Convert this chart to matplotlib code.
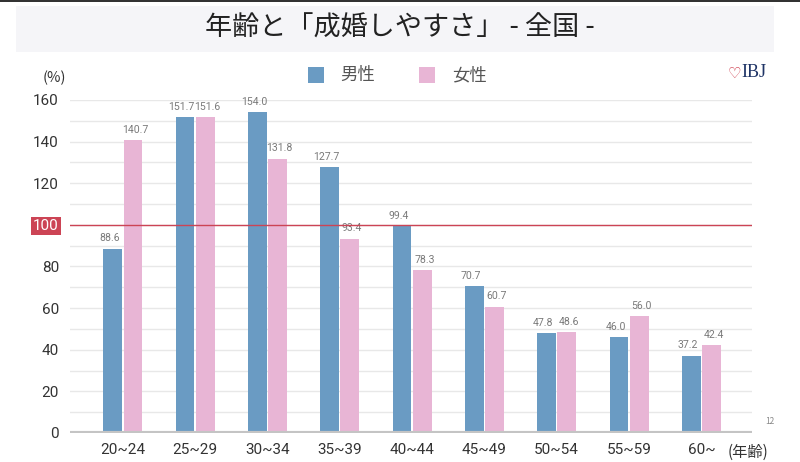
import numpy as np
import matplotlib.pyplot as plt
from matplotlib.patches import Rectangle

plt.rcParams['font.family'] = ['Noto Sans CJK JP', 'DejaVu Sans']

ages = ['20~24', '25~29', '30~34', '35~39', '40~44', '45~49', '50~54', '55~59', '60~']
male = [88.6, 151.7, 154.0, 127.7, 99.4, 70.7, 47.8, 46.0, 37.2]
female = [140.7, 151.6, 131.8, 93.4, 78.3, 60.7, 48.6, 56.0, 42.4]
yticks = [0, 20, 40, 60, 80, 100, 120, 140, 160]

c_male = '#6a9bc3'
c_female = '#e8b5d5'
c_red = '#cc4455'

fig = plt.figure(figsize=(8, 4.62), dpi=100)
ax = fig.add_axes([0.0875, 0.0628, 0.8525, 0.7208])

x = np.arange(len(ages))
w = 0.26
ax.bar(x - w / 2 - 0.01, male, w, color=c_male, zorder=3)
ax.bar(x + w / 2 + 0.01, female, w, color=c_female, zorder=3)

num_font = ['Roboto', 'DejaVu Sans']
for xi, m, f in zip(x, male, female):
    ax.text(xi - w / 2 - 0.055, m + 2.5, f'{m:.1f}', ha='center', va='bottom',
            fontsize=7.6, color='#7a7a7a', family=num_font)
    ax.text(xi + w / 2 + 0.04, f + 2.5, f'{f:.1f}', ha='center', va='bottom',
            fontsize=7.6, color='#7a7a7a', family=num_font)

ax.set_xlim(-0.73, 8.70)
ax.set_ylim(0, 160)
ax.set_yticks(yticks)
ax.set_yticks(range(10, 160, 20), minor=True)
ax.grid(axis='y', which='both', color='#e8e8e8', linewidth=1, zorder=0)
ax.axhline(100, color=c_red, linewidth=1, zorder=4)
ax.axhline(0, color='#c4c4c4', linewidth=3, zorder=5)

ax.set_xticks(x)
ax.set_xticklabels(ages, fontsize=11, color='#333333', family=num_font)
ax.tick_params(axis='both', length=0, which='both')
ax.tick_params(axis='y', pad=8)
ax.tick_params(axis='x', pad=7)
labels = ax.set_yticklabels([str(v) for v in yticks], fontsize=11, color='#333333',
                            family=num_font)
labels[5].set_color('white')
labels[5].set_bbox(dict(facecolor=c_red, edgecolor='none', pad=1.5))
for s in ax.spines.values():
    s.set_visible(False)

# title band
fig.patches.append(Rectangle((0.02, 0.888), 0.948, 0.1, transform=fig.transFigure,
                             facecolor='#f5f5f8', edgecolor='none', zorder=0))
fig.patches.append(Rectangle((0, 0.995), 1, 0.005, transform=fig.transFigure,
                             facecolor='#333333', edgecolor='none'))
fig.text(0.5, 0.94, '年齢と「成婚しやすさ」 - 全国 -', ha='center', va='center',
         fontsize=19.5, color='#222222')

# legend
fig.patches.append(Rectangle((0.385, 0.82), 0.02, 0.035, transform=fig.transFigure,
                             facecolor=c_male, edgecolor='none'))
fig.text(0.425, 0.837, '男性', ha='left', va='center', fontsize=12.5, color='#555555')
fig.patches.append(Rectangle((0.524, 0.82), 0.02, 0.035, transform=fig.transFigure,
                             facecolor=c_female, edgecolor='none'))
fig.text(0.565, 0.837, '女性', ha='left', va='center', fontsize=12.5, color='#555555')

fig.text(0.068, 0.832, '(%)', ha='center', va='center', fontsize=10.5, color='#333333')
fig.text(0.91, 0.022, '(年齢)', ha='left', va='center', fontsize=11, color='#333333')
fig.text(0.957, 0.087, '12', ha='left', va='center', fontsize=6, color='#888888')

# logo
fig.text(0.927, 0.842, '♡', ha='right', va='center', fontsize=11, color='#cc3344',
         family=['DejaVu Sans'])
fig.text(0.927, 0.842, 'IBJ', ha='left', va='center', fontsize=13, color='#1f3466',
         family=['Liberation Serif'])

fig.savefig('out.png', dpi=100)
